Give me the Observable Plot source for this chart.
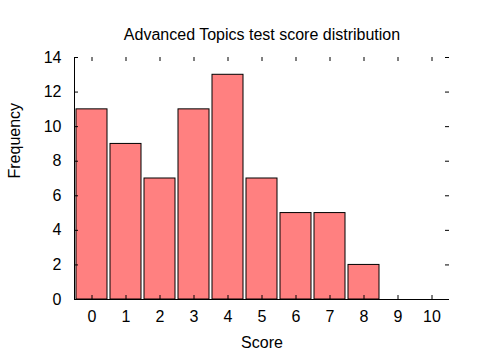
<!DOCTYPE html>
<html>
<head>
<meta charset="utf-8">
<script src="https://cdn.jsdelivr.net/npm/d3@7"></script>
<script src="https://cdn.jsdelivr.net/npm/@observablehq/plot@0.6"></script>
<style>
  html, body { margin: 0; padding: 0; background: #fff; }
  #chart svg { display: block; }
</style>
</head>
<body>
<div id="chart"></div>
<script>
const scores = [0, 1, 2, 3, 4, 5, 6, 7, 8, 9, 10];
const counts = [11, 9, 7, 11, 13, 7, 5, 5, 2, 0, 0];
const yTicks = [0, 2, 4, 6, 8, 10, 12, 14];
const title = "Advanced Topics test score distribution";
const xLabel = "Score";
const yLabel = "Frequency";

const data = scores.map((s, i) => ({score: s, count: counts[i]}));

const W = 480, H = 360;
const mL = 74, mR = 31, mT = 57, mB = 61;
const fw = W - mL - mR, fh = H - mT - mB;
const font = "Liberation Sans, Arial, sans-serif";
const fs = 16;

const chart = Plot.plot({
  width: W,
  height: H,
  marginLeft: mL,
  marginRight: mR,
  marginTop: mT,
  marginBottom: mB,
  style: {fontFamily: font, fontSize: fs + "px", color: "#000", background: "#fff"},
  x: {type: "band", domain: scores, paddingInner: 0.1, paddingOuter: 0.05},
  y: {domain: [0, 14]},
  marks: [
    Plot.barY(data, {x: "score", y: "count", fill: "#ff8080", stroke: "#000", strokeWidth: 1}),
    // axis lines (left & bottom)
    Plot.frame({anchor: "left", stroke: "#000"}),
    Plot.ruleY([0], {stroke: "#000"}),
    // inward ticks
    Plot.tickY(yTicks, {y: d => d, insetRight: fw - 4, stroke: "#000"}),
    Plot.tickY(yTicks, {y: d => d, insetLeft: fw - 4, stroke: "#000"}),
    Plot.tickX(scores, {x: d => d, insetTop: fh - 4, stroke: "#000"}),
    Plot.tickX(scores, {x: d => d, insetBottom: fh - 4, stroke: "#000"}),
    // tick labels
    Plot.axisY(yTicks, {tickSize: 0, tickPadding: 13, label: null, fontSize: fs}),
    Plot.axisX(scores, {tickSize: 0, tickPadding: 11, label: null, fontSize: fs}),
    // axis titles
    Plot.text([xLabel], {frameAnchor: "bottom", dy: 48, text: d => d, fontSize: fs}),
    Plot.text([yLabel], {frameAnchor: "left", dx: -60, rotate: -90, text: d => d, fontSize: fs}),
    Plot.text([title], {frameAnchor: "top", dy: -29, text: d => d, fontSize: fs})
  ]
});
document.getElementById("chart").appendChild(chart);
</script>
</body>
</html>
